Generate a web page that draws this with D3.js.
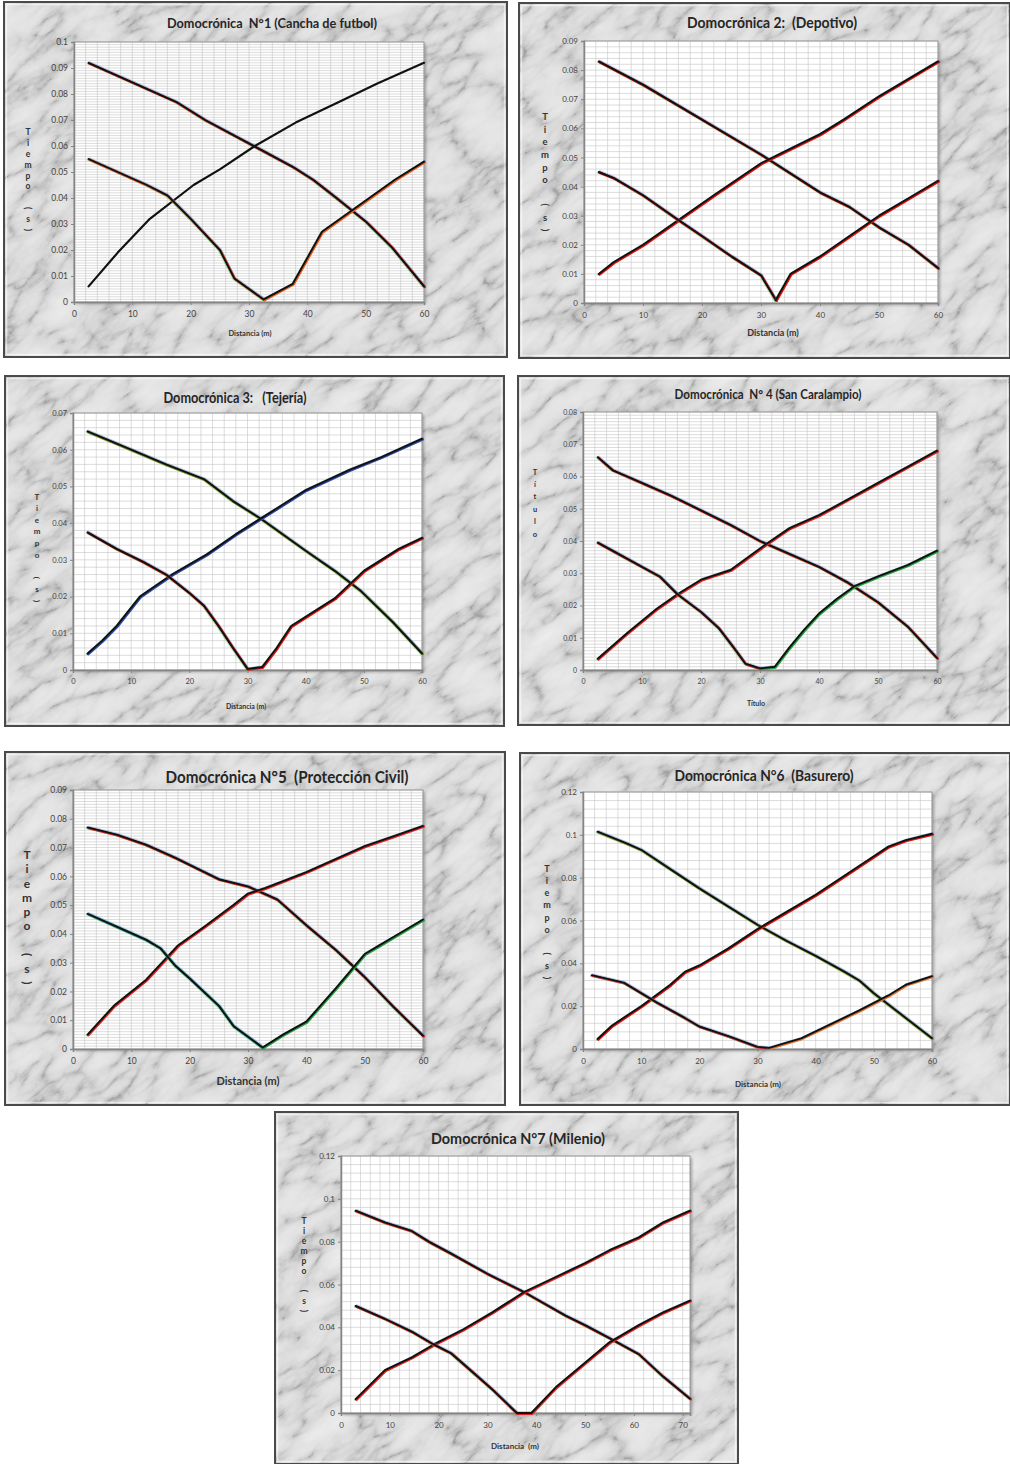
<!DOCTYPE html>
<html>
<head>
<meta charset="utf-8">
<script src="https://cdn.jsdelivr.net/npm/d3@7"></script>
<style>
  html, body { margin: 0; padding: 0; background: #fff; }
  svg { display: block; }
  text { font-family: Lato, "Open Sans", "Noto Sans", sans-serif; }
</style>
</head>
<body>
<svg id="chart" width="1010" height="1464"></svg>
<script>
// ---------- Travel-time curves (distance m, time s) ----------
const titles = [
  "Domocrónica  N°1 (Cancha de futbol)",
  "Domocrónica 2:  (Depotivo)",
  "Domocrónica 3:   (Tejería)",
  "Domocrónica  N° 4 (San Caralampio)",
  "Domocrónica N°5  (Protección Civil)",
  "Domocrónica N°6  (Basurero)",
  "Domocrónica N°7 (Milenio)"
];
const xTitles = ["Distancia (m)", "Distancia (m)", "Distancia (m)", "Título", "Distancia (m)", "Distancia (m)", "Distancia  (m)"];
const yTitles = ["Tiempo (s)", "Tiempo (s)", "Tiempo (s)", "Título", "Tiempo (s)", "Tiempo (s)", "Tiempo (s)"];
const xMax = [60, 60, 60, 60, 60, 60, 71.5];
const xTickMax = [60, 60, 60, 60, 60, 60, 70];
const yMax = [0.1, 0.09, 0.07, 0.08, 0.09, 0.12, 0.12];
const yTickStep = [0.01, 0.01, 0.01, 0.01, 0.01, 0.02, 0.02];

const p1Fwd = [[2.5,0.092],[7.5,0.087],[12.5,0.082],[17.5,0.077],[22.5,0.070],[27.5,0.064],[32.5,0.058],[37.5,0.052],[41,0.047],[45,0.040],[50,0.031],[54.5,0.021],[60,0.006]];
const p1Rev = [[2.5,0.006],[7.5,0.019],[13,0.032],[20.5,0.045],[25,0.051],[31,0.060],[38,0.069],[45.5,0.077],[52,0.084],[60,0.092]];
const p1FwdMid = [[2.5,0.055],[7.5,0.050],[12.5,0.045],[16,0.041],[20,0.032],[25,0.020],[27.5,0.009],[32.5,0.001]];
const p1RevMid = [[32.5,0.001],[37.5,0.007],[42.5,0.027],[47.5,0.035],[55,0.047],[60,0.054]];

const p2Fwd = [[2.5,0.083],[10,0.075],[20,0.063],[30,0.051],[40,0.038],[45,0.033],[50,0.026],[55,0.020],[60,0.012]];
const p2Rev = [[2.5,0.010],[5,0.014],[10,0.020],[16,0.0285],[22,0.037],[30,0.048],[35,0.053],[40,0.058],[44,0.063],[50,0.071],[60,0.083]];
const p2FwdMid = [[2.5,0.045],[5,0.043],[10,0.037],[16,0.0285],[20,0.023],[25,0.016],[30,0.0095],[32.5,0.001]];
const p2RevMid = [[32.5,0.001],[35,0.010],[40,0.016],[45,0.023],[50,0.030],[55,0.036],[60,0.042]];

const p3Fwd = [[2.5,0.065],[10,0.060],[16,0.056],[22.5,0.052],[27.5,0.046],[32.5,0.041],[40,0.0325],[45,0.027],[49.5,0.0215],[55,0.013],[60,0.0045]];
const p3Rev = [[2.5,0.0045],[5,0.008],[7.5,0.012],[11.5,0.020],[17,0.026],[23,0.0315],[28,0.037],[32.5,0.0415],[36,0.045],[40,0.049],[47.5,0.0545],[53,0.058],[60,0.063]];
const p3FwdMid = [[2.5,0.0375],[7.5,0.033],[12,0.0295],[16,0.026],[20,0.021],[22.5,0.0175],[25,0.012],[27.5,0.006],[30,0.0003]];
const p3RevMid = [[30,0.0003],[32.5,0.0008],[35,0.006],[37.5,0.012],[40,0.0145],[45,0.0195],[50,0.027],[53,0.030],[56,0.033],[60,0.036]];

const p4Fwd = [[2.5,0.066],[5,0.062],[10,0.058],[15,0.054],[20,0.0495],[25,0.045],[30,0.040],[35,0.036],[40,0.032],[45,0.027],[50,0.021],[55,0.0135],[60,0.0037]];
const p4Rev = [[2.5,0.0035],[7.5,0.0115],[12.5,0.019],[16,0.0235],[20,0.028],[25,0.031],[31,0.039],[35,0.044],[40,0.048],[45,0.053],[50,0.058],[55,0.063],[60,0.068]];
const p4FwdMid = [[2.5,0.0395],[5,0.037],[10,0.032],[13,0.029],[16,0.0235],[20,0.018],[23,0.013],[25.5,0.007],[27.5,0.002],[30,0.0005]];
const p4RevMid = [[30,0.0005],[32.5,0.001],[35,0.007],[37.5,0.0125],[40,0.0175],[43,0.022],[46,0.026],[50,0.029],[55,0.0325],[60,0.037]];

const p5Fwd = [[2.5,0.077],[7.5,0.0745],[12.5,0.071],[17.5,0.0665],[20,0.064],[25,0.059],[30,0.0565],[35,0.052],[40,0.043],[45,0.0345],[50,0.025],[55,0.0145],[60,0.0046]];
const p5Rev = [[2.5,0.005],[7,0.015],[12.5,0.024],[18,0.036],[22.5,0.0425],[27.5,0.050],[30,0.054],[33,0.056],[40,0.0615],[45,0.066],[50,0.0705],[55,0.074],[60,0.0775]];
const p5FwdMid = [[2.5,0.047],[7.5,0.0425],[12.5,0.038],[15,0.035],[17.5,0.029],[20,0.0245],[25,0.015],[27.5,0.008],[32.5,0.0005]];
const p5RevMid = [[32.5,0.0005],[36,0.005],[40,0.0095],[45,0.021],[50,0.033],[52.5,0.036],[55,0.039],[60,0.045]];

const p6Fwd = [[2.5,0.1015],[7.5,0.096],[10,0.093],[15,0.084],[20,0.075],[25,0.0665],[30,0.058],[35,0.0505],[40,0.0435],[45,0.036],[47.5,0.032],[50,0.026],[55,0.0155],[60,0.005]];
const p6Rev = [[2.5,0.0047],[5,0.011],[10,0.020],[15,0.030],[17.5,0.036],[20,0.039],[25,0.047],[30,0.056],[35,0.064],[40,0.072],[45,0.081],[50,0.090],[52.5,0.0945],[55.5,0.0975],[60,0.1005]];
const p6FwdMid = [[1.5,0.0345],[7,0.031],[12.5,0.022],[17.5,0.0145],[20,0.0105],[25,0.006],[30,0.001],[32,0.0005]];
const p6RevMid = [[32,0.0005],[35,0.003],[37.5,0.005],[42.5,0.0115],[47.5,0.018],[52.5,0.025],[55.5,0.030],[60,0.034]];

const p7Fwd = [[3,0.0945],[9,0.089],[14.5,0.085],[18,0.080],[22.5,0.0745],[30,0.065],[37.5,0.0565],[46,0.0455],[50,0.041],[55,0.035],[61,0.0275],[66,0.017],[71.5,0.0067]];
const p7Rev = [[3,0.0065],[9,0.020],[14.5,0.026],[19,0.032],[25,0.039],[31,0.047],[37.5,0.0565],[44,0.0635],[50,0.070],[55,0.076],[61,0.082],[66,0.089],[71.5,0.0945]];
const p7FwdMid = [[3,0.050],[9,0.044],[14.5,0.038],[19,0.032],[22.5,0.028],[27,0.019],[31,0.011],[36,0]];
const p7RevMid = [[36,0],[39,0],[44,0.012],[50,0.0235],[55,0.033],[61,0.041],[66,0.047],[71.5,0.0525]];

const curves = [
  [p1Fwd, p1Rev, p1FwdMid, p1RevMid],
  [p2Fwd, p2Rev, p2FwdMid, p2RevMid],
  [p3Fwd, p3Rev, p3FwdMid, p3RevMid],
  [p4Fwd, p4Rev, p4FwdMid, p4RevMid],
  [p5Fwd, p5Rev, p5FwdMid, p5RevMid],
  [p6Fwd, p6Rev, p6FwdMid, p6RevMid],
  [p7Fwd, p7Rev, p7FwdMid, p7RevMid]
];

// ---------- Layout and styling ----------
// frame: [x, y, w, h]; plot: [left, top, right, bottom]; title: [cx, cy, size, width]
// ylab: [x, firstLetterY, lastLetterY, size]; xlab: [cx, baseline, size]
const layout = [
  {frame:[4,2,503,355],    plot:[74,42,424,302],     title:[272,23,13,210],  ylab:[28,132,230,8.5],   xlab:[250,336,7.5], tick:8.5, yMinor:0.001},
  {frame:[519,3,491,355],  plot:[584,41,938,303],    title:[772,23,15,170],  ylab:[545,117,230,9.5],  xlab:[773,336,9],   tick:8,   yMinor:0.002},
  {frame:[5,376,499,350],  plot:[73,413,422,670],    title:[235,397,16,143], ylab:[37,497,601,8],     xlab:[246,709,7],   tick:7.5, yMinor:0.002},
  {frame:[518,376,492,349],plot:[583,412,937,670],   title:[768,394,14,187], ylab:[535,472,534,7.5],  xlab:[756,706,7],   tick:7,   yMinor:0.001},
  {frame:[5,752,500,353],  plot:[73,790,423,1049],   title:[287,777,17,243], ylab:[27,855,983,12],    xlab:[248,1085,11], tick:8.5, yMinor:0.001},
  {frame:[520,753,490,352],plot:[583,792,932,1049],  title:[764,775,16,179], ylab:[547,869,978,9],    xlab:[758,1087,8],  tick:8,   yMinor:0.004},
  {frame:[275,1112,463,352],plot:[341,1156,690,1413],title:[518,1138,16,174],ylab:[304,1221,1311,8.5],xlab:[515,1449,8],  tick:8,   yMinor:0.004}
];

// accent colour showing under the black trace of each curve ("none" = plain black)
const accents = [
  ["#e02020", "none",    "#e04a20", "#e85a20"],
  ["#e01010", "#e01010", "#e01010", "#e01010"],
  ["#7a8a20", "#2848a8", "#e01010", "#e01010"],
  ["#e02020", "#e02020", "#e02020", "#20a040"],
  ["#e02020", "#e02020", "#109080", "#20a040"],
  ["#8a9a30", "#e01010", "#d04040", "#e07030"],
  ["#e02020", "#e02020", "#e02020", "#e02020"]
];
const fringe = [
  {c: "#4a7fd0", dx: 0.9,  dy: -0.8},
  {c: "#40b040", dx: -0.9, dy: 0.7},
  {c: "#f0a030", dx: 0.7,  dy: 1.0}
];

const svg = d3.select("#chart");
const defs = svg.append("defs");

// soft shadow behind plot areas
const blur = defs.append("filter").attr("id", "soft").attr("x", "-5%").attr("y", "-5%").attr("width", "110%").attr("height", "110%");
blur.append("feGaussianBlur").attr("stdDeviation", 1.6);

// grey marble: ridged noise, thin dark veins on a pale ground
function marbleFilter(id, seed) {
  const f = defs.append("filter").attr("id", id)
    .attr("x", 0).attr("y", 0).attr("width", 1).attr("height", 1)
    .attr("color-interpolation-filters", "sRGB");
  f.append("feTurbulence").attr("type", "turbulence")
    .attr("baseFrequency", "0.016 0.04").attr("numOctaves", 6).attr("seed", seed);
  f.append("feColorMatrix").attr("type", "matrix")
    .attr("values", "1 0 0 0 0  1 0 0 0 0  1 0 0 0 0  0 0 0 0 1");
  const ct = f.append("feComponentTransfer");
  ["feFuncR", "feFuncG", "feFuncB"].forEach(n =>
    ct.append(n).attr("type", "table")
      .attr("tableValues", "0.56 0.76 0.84 0.87 0.89 0.9 0.91 0.92 0.93"));
}

const fmtY = d => d === 0 ? "0" : String(+d.toFixed(3));

function drawPanel(i) {
  const L = layout[i];
  const [fx, fy, fw, fh] = L.frame;
  const [pl, pt, pr, pb] = L.plot;
  const g = svg.append("g");

  // marble frame
  marbleFilter("marble" + i, 3 + i * 11);
  defs.append("clipPath").attr("id", "fclip" + i)
    .append("rect").attr("x", fx).attr("y", fy).attr("width", fw).attr("height", fh);
  const cx = fx + fw / 2, cy = fy + fh / 2;
  g.append("g").attr("clip-path", `url(#fclip${i})`)
    .append("g").attr("transform", `rotate(-38,${cx},${cy})`)
    .append("rect")
      .attr("x", cx - 420).attr("y", cy - 420).attr("width", 840).attr("height", 840)
      .attr("fill", "#ddd").attr("filter", `url(#marble${i})`);
  g.append("rect").attr("x", fx + 2.5).attr("y", fy + 2.5).attr("width", fw - 5).attr("height", fh - 5)
    .attr("fill", "none").attr("stroke", "rgba(255,255,255,0.55)").attr("stroke-width", 1.5);
  g.append("rect").attr("x", fx).attr("y", fy).attr("width", fw).attr("height", fh)
    .attr("fill", "none").attr("stroke", "#4a4a4a").attr("stroke-width", 2);

  const x = d3.scaleLinear().domain([0, xMax[i]]).range([pl, pr]);
  const y = d3.scaleLinear().domain([0, yMax[i]]).range([pb, pt]);

  // plot area
  g.append("rect").attr("x", pl + 2).attr("y", pt + 2).attr("width", pr - pl).attr("height", pb - pt)
    .attr("fill", "#666").attr("opacity", 0.55).attr("filter", "url(#soft)");
  g.append("rect").attr("x", pl).attr("y", pt).attr("width", pr - pl).attr("height", pb - pt)
    .attr("fill", "#fff");

  // gridlines
  const grid = g.append("g").attr("stroke", "#c4c4c4").attr("stroke-width", 0.6);
  const vx = d3.range(0, Math.floor(xMax[i] / 2) + 1).map(k => k * 2);
  grid.selectAll(".v").data(vx).join("line")
    .attr("x1", d => x(d)).attr("x2", d => x(d)).attr("y1", pt).attr("y2", pb);
  const nY = Math.round(yMax[i] / L.yMinor);
  const hy = d3.range(0, nY + 1).map(k => k * L.yMinor);
  grid.selectAll(".h").data(hy).join("line")
    .attr("x1", pl).attr("x2", pr).attr("y1", d => y(d)).attr("y2", d => y(d));
  g.append("rect").attr("x", pl).attr("y", pt).attr("width", pr - pl).attr("height", pb - pt)
    .attr("fill", "none").attr("stroke", "#9a9a9a").attr("stroke-width", 1);

  // axes
  const nYt = Math.round(yMax[i] / yTickStep[i]);
  const yAxis = d3.axisLeft(y)
    .tickValues(d3.range(0, nYt + 1).map(k => +(k * yTickStep[i]).toFixed(3)))
    .tickFormat(fmtY).tickSize(3).tickPadding(3);
  const xAxis = d3.axisBottom(x)
    .tickValues(d3.range(0, xTickMax[i] + 1, 10))
    .tickSize(3).tickPadding(6);
  const ya = g.append("g").attr("transform", `translate(${pl},0)`).call(yAxis);
  const xa = g.append("g").attr("transform", `translate(0,${pb})`).call(xAxis);
  [ya, xa].forEach(a => {
    a.select(".domain").attr("stroke", "#858585").attr("stroke-width", 1.5);
    a.selectAll(".tick line").attr("stroke", "#858585");
    a.selectAll("text").attr("fill", "#444").attr("font-size", L.tick)
      .attr("font-family", "Lato, 'Open Sans', sans-serif");
  });

  // curves: coloured traces under a black trace
  const line = d3.line().x(d => x(d[0])).y(d => y(d[1]));
  const cg = g.append("g").attr("fill", "none").attr("stroke-linejoin", "round").attr("stroke-linecap", "round");
  curves[i].forEach((data, k) => {
    const acc = accents[i][k];
    if (acc !== "none") {
      fringe.forEach(f => {
        cg.append("path").datum(data).attr("d", line)
          .attr("transform", `translate(${f.dx},${f.dy})`)
          .attr("stroke", f.c).attr("stroke-width", 1.8).attr("opacity", 0.45);
      });
      cg.append("path").datum(data).attr("d", line)
        .attr("transform", "translate(0.8,0.7)")
        .attr("stroke", acc).attr("stroke-width", 2.4);
    }
    cg.append("path").datum(data).attr("d", line)
      .attr("stroke", "#111").attr("stroke-width", acc === "none" ? 2.2 : 1.9);
  });

  // title
  const [tcx, tcy, tfs, tw] = L.title;
  g.append("text").attr("x", tcx).attr("y", tcy + tfs * 0.36)
    .attr("text-anchor", "middle").attr("font-weight", "bold").attr("font-size", tfs)
    .attr("fill", "#262626").style("white-space", "pre")
    .attr("textLength", tw).attr("lengthAdjust", "spacingAndGlyphs")
    .text(titles[i]);

  // x axis title
  const [xcx, xby, xfs] = L.xlab;
  g.append("text").attr("x", xcx).attr("y", xby).attr("text-anchor", "middle")
    .attr("font-weight", "bold").attr("font-size", xfs).attr("fill", "#333")
    .style("white-space", "pre").text(xTitles[i]);

  // y axis title, letters stacked vertically
  const [ycx, y0, y1, yfs] = L.ylab;
  const chars = Array.from(yTitles[i]);
  const step = (y1 - y0) / (chars.length - 1);
  chars.forEach((ch, j) => {
    if (ch === " ") return;
    const cyL = y0 + j * step;
    const t = g.append("text").attr("x", ycx).attr("y", cyL + yfs * 0.35)
      .attr("text-anchor", "middle").attr("font-weight", "bold")
      .attr("font-size", yfs).attr("fill", "#333").text(ch);
    if (ch === "(" || ch === ")") t.attr("transform", `rotate(90,${ycx},${cyL})`);
  });
}

for (let i = 0; i < 7; i++) drawPanel(i);
</script>
</body>
</html>
